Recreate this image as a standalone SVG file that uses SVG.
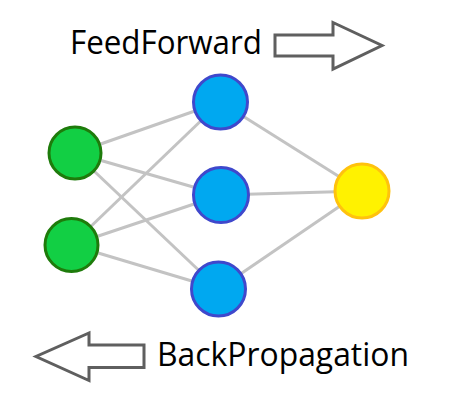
<svg xmlns="http://www.w3.org/2000/svg" width="450" height="406" viewBox="0 0 450 406">
<style>
.edge{stroke:#C3C3C3;stroke-width:3;fill:none}
.in{fill:#12CF44;stroke:#1E7B0B;stroke-width:3}
.hid{fill:#00A8F0;stroke:#3F48CC;stroke-width:3}
.out{fill:#FFF200;stroke:#FFC20E;stroke-width:3}
.lbl{font-family:"Open Sans","Noto Sans",sans-serif;font-size:33px;fill:#000}
.arr{fill:#fff;stroke:#5F5F5F;stroke-width:3;stroke-linejoin:miter}
</style>
<rect width="450" height="406" fill="#fff"/>
<g id="connectors">
<line class="edge" x1="75" y1="153" x2="220.5" y2="102"/>
<line class="edge" x1="75" y1="153" x2="221" y2="195"/>
<line class="edge" x1="75" y1="153" x2="218.5" y2="289"/>
<line class="edge" x1="71.5" y1="245" x2="220.5" y2="102"/>
<line class="edge" x1="71.5" y1="245" x2="221" y2="195"/>
<line class="edge" x1="71.5" y1="245" x2="218.5" y2="289"/>
<line class="edge" x1="220.5" y1="102" x2="362" y2="191"/>
<line class="edge" x1="221" y1="195" x2="362" y2="191"/>
<line class="edge" x1="218.5" y1="289" x2="362" y2="191"/>
</g>
<g id="input1"><circle class="in" cx="75" cy="153" r="26"/></g>
<g id="input2"><circle class="in" cx="71.5" cy="245" r="26.5"/></g>
<g id="hidden1"><circle class="hid" cx="220.5" cy="102" r="27"/></g>
<g id="hidden2"><circle class="hid" cx="221" cy="195" r="27.5"/></g>
<g id="hidden3"><circle class="hid" cx="218.5" cy="289" r="27"/></g>
<g id="output"><circle class="out" cx="362" cy="191" r="27"/></g>
<g id="feedforward">
<text class="lbl" x="70" y="54" textLength="192" lengthAdjust="spacingAndGlyphs">FeedForward</text>
<polygon class="arr" points="275,35 333,35 333,22.5 382,45.5 333,69 333,56 275,56"/>
</g>
<g id="backpropagation">
<polygon class="arr" points="144,345 89,345 89,333 36,356.5 89,380.5 89,367.5 144,367.5"/>
<text class="lbl" x="157" y="366" textLength="252" lengthAdjust="spacingAndGlyphs">BackPropagation</text>
</g>
</svg>
